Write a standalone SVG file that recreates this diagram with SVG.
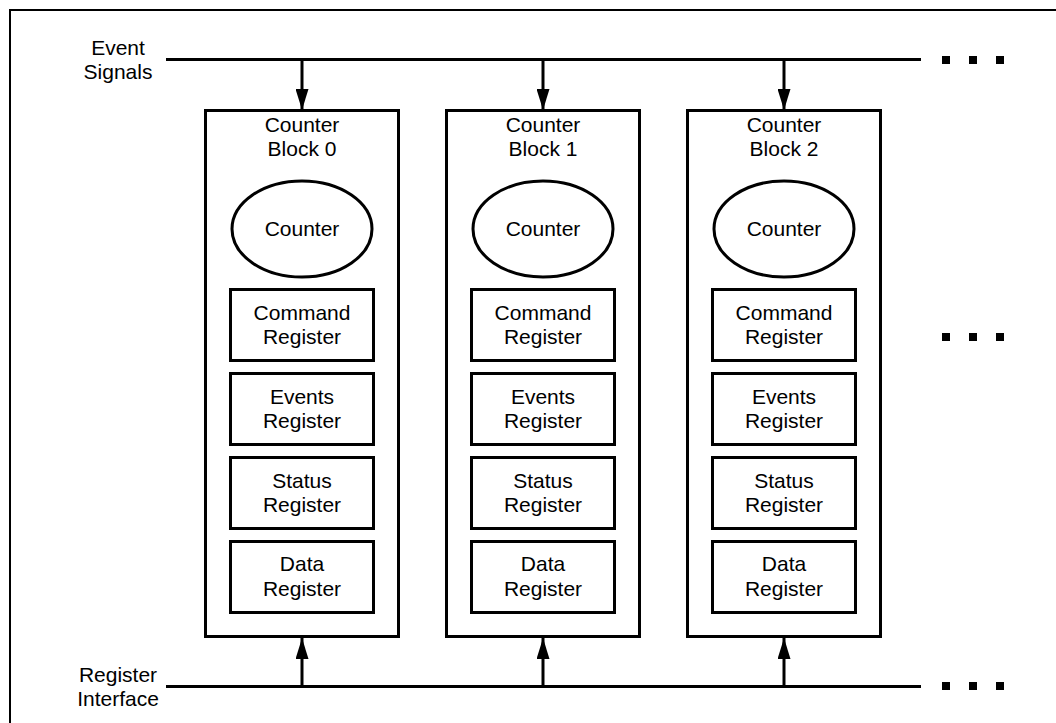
<svg xmlns="http://www.w3.org/2000/svg" width="1056" height="723" viewBox="0 0 1056 723">
<style>
text{font-family:"Liberation Sans",Arial,sans-serif;font-size:21px;fill:#000;text-anchor:middle}
.box{fill:#fff;stroke:#000;stroke-width:3}
.ln{stroke:#000;stroke-width:3;fill:none}
.dot{fill:#000}
</style>
<defs>
<marker id="ah" markerWidth="21" markerHeight="13" refX="21" refY="6.5" orient="auto" markerUnits="userSpaceOnUse">
<path d="M0,0 L21,6.5 L0,13 Z" fill="#000"/>
</marker>
</defs>
<rect width="1056" height="723" fill="#fff"/>
<rect x="10" y="10" width="1100" height="800" fill="none" stroke="#000" stroke-width="2"/>
<g id="event-signals">
<text x="118" y="55">Event</text>
<text x="118" y="79">Signals</text>
</g>
<g id="register-interface">
<text x="118" y="682">Register</text>
<text x="118" y="706">Interface</text>
</g>
<g id="connectors">
<line class="ln" x1="166" y1="59.5" x2="921" y2="59.5"/>
<line class="ln" x1="166" y1="686.5" x2="921" y2="686.5"/>
<line class="ln" x1="302" y1="59.5" x2="302" y2="110" marker-end="url(#ah)"/>
<line class="ln" x1="543" y1="59.5" x2="543" y2="110" marker-end="url(#ah)"/>
<line class="ln" x1="784" y1="59.5" x2="784" y2="110" marker-end="url(#ah)"/>
<line class="ln" x1="302" y1="686.5" x2="302" y2="638" marker-end="url(#ah)"/>
<line class="ln" x1="543" y1="686.5" x2="543" y2="638" marker-end="url(#ah)"/>
<line class="ln" x1="784" y1="686.5" x2="784" y2="638" marker-end="url(#ah)"/>
</g>
<g id="ellipsis">
<rect class="dot" x="942" y="56" width="8" height="8"/>
<rect class="dot" x="969" y="56" width="8" height="8"/>
<rect class="dot" x="996" y="56" width="8" height="8"/>
<rect class="dot" x="942" y="333" width="8" height="8"/>
<rect class="dot" x="969" y="333" width="8" height="8"/>
<rect class="dot" x="996" y="333" width="8" height="8"/>
<rect class="dot" x="942" y="682" width="8" height="8"/>
<rect class="dot" x="969" y="682" width="8" height="8"/>
<rect class="dot" x="996" y="682" width="8" height="8"/>
</g>
<g id="block0">
<rect class="box" x="205.5" y="110.5" width="193" height="526"/>
<text x="302" y="131.5">Counter</text>
<text x="302" y="156">Block 0</text>
<ellipse class="box" cx="302" cy="229" rx="70" ry="48"/>
<text x="302" y="236">Counter</text>
<rect class="box" x="230.5" y="289.5" width="143" height="71"/>
<text x="302" y="319.5">Command</text><text x="302" y="344">Register</text>
<rect class="box" x="230.5" y="373.5" width="143" height="71"/>
<text x="302" y="403.5">Events</text><text x="302" y="428">Register</text>
<rect class="box" x="230.5" y="457.5" width="143" height="71"/>
<text x="302" y="487.5">Status</text><text x="302" y="512">Register</text>
<rect class="box" x="230.5" y="541.5" width="143" height="71"/>
<text x="302" y="571">Data</text><text x="302" y="595.5">Register</text>
</g>
<g id="block1">
<rect class="box" x="446.5" y="110.5" width="193" height="526"/>
<text x="543" y="131.5">Counter</text>
<text x="543" y="156">Block 1</text>
<ellipse class="box" cx="543" cy="229" rx="70" ry="48"/>
<text x="543" y="236">Counter</text>
<rect class="box" x="471.5" y="289.5" width="143" height="71"/>
<text x="543" y="319.5">Command</text><text x="543" y="344">Register</text>
<rect class="box" x="471.5" y="373.5" width="143" height="71"/>
<text x="543" y="403.5">Events</text><text x="543" y="428">Register</text>
<rect class="box" x="471.5" y="457.5" width="143" height="71"/>
<text x="543" y="487.5">Status</text><text x="543" y="512">Register</text>
<rect class="box" x="471.5" y="541.5" width="143" height="71"/>
<text x="543" y="571">Data</text><text x="543" y="595.5">Register</text>
</g>
<g id="block2">
<rect class="box" x="687.5" y="110.5" width="193" height="526"/>
<text x="784" y="131.5">Counter</text>
<text x="784" y="156">Block 2</text>
<ellipse class="box" cx="784" cy="229" rx="70" ry="48"/>
<text x="784" y="236">Counter</text>
<rect class="box" x="712.5" y="289.5" width="143" height="71"/>
<text x="784" y="319.5">Command</text><text x="784" y="344">Register</text>
<rect class="box" x="712.5" y="373.5" width="143" height="71"/>
<text x="784" y="403.5">Events</text><text x="784" y="428">Register</text>
<rect class="box" x="712.5" y="457.5" width="143" height="71"/>
<text x="784" y="487.5">Status</text><text x="784" y="512">Register</text>
<rect class="box" x="712.5" y="541.5" width="143" height="71"/>
<text x="784" y="571">Data</text><text x="784" y="595.5">Register</text>
</g>
</svg>
